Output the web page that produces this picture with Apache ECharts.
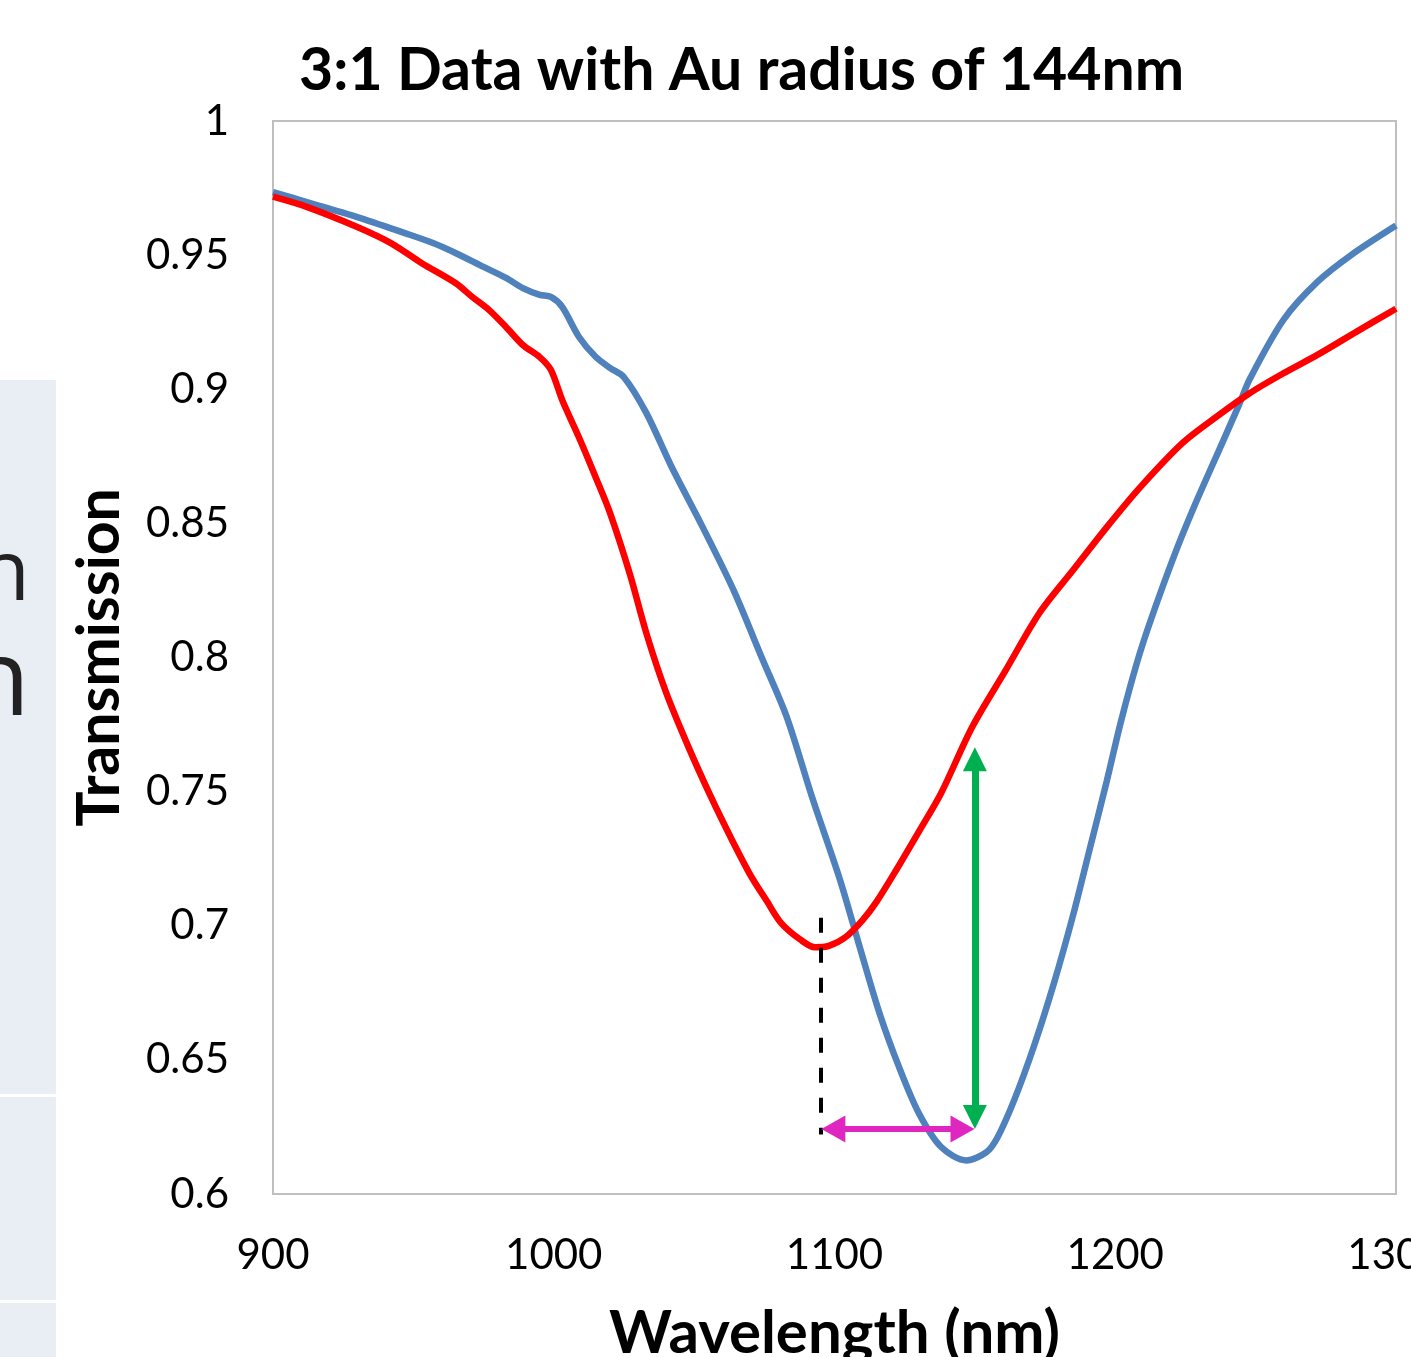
<!DOCTYPE html>
<html>
<head>
<meta charset="utf-8">
<script src="https://cdn.jsdelivr.net/npm/echarts@6/dist/echarts.min.js"></script>
<style>
  html, body { margin: 0; padding: 0; background: #fff; }
  #chart { width: 1411px; height: 1357px; }
</style>
</head>
<body>
<div id="chart"></div>
<script>
// blue: reference curve, red: measured 3:1 data
const blueWl = [900, 912, 930, 947, 957, 965, 975, 983, 989, 995, 999, 1003, 1009, 1015, 1020, 1025,
  1033, 1042, 1053, 1064, 1074, 1083, 1092, 1102, 1109, 1116, 1123, 1130, 1138, 1147, 1154, 1158,
  1164, 1171, 1178, 1185, 1191, 1197, 1202, 1208, 1213, 1221, 1228, 1236, 1244, 1248, 1260, 1272,
  1284, 1300]
const blueT = [0.9735, 0.9698, 0.9642, 0.9582, 0.9545, 0.9508, 0.9456, 0.9415, 0.9377, 0.9352, 0.9344,
  0.9307, 0.9195, 0.912, 0.908, 0.9045, 0.8911, 0.871, 0.8487, 0.8252, 0.8002, 0.7778, 0.748, 0.717,
  0.692, 0.6675, 0.6473, 0.6302, 0.6175, 0.6125, 0.6155, 0.621, 0.635, 0.655, 0.678, 0.704, 0.729,
  0.754, 0.776, 0.799, 0.815, 0.838, 0.856, 0.875, 0.894, 0.904, 0.926, 0.94, 0.95, 0.961]

const redWl = [900, 912, 930, 942, 953, 965, 971, 977, 983, 989, 995, 999, 1003, 1009, 1015, 1020,
  1027, 1033, 1040, 1048, 1056, 1063, 1070, 1076, 1081, 1088, 1093, 1098, 1104, 1110, 1115, 1122,
  1130, 1138, 1149, 1161, 1173, 1185, 1197, 1209, 1224, 1236, 1248, 1260, 1272, 1286, 1300]
const redT = [0.9718, 0.968, 0.9605, 0.9545, 0.947, 0.9396, 0.9344, 0.9295, 0.9232, 0.9165, 0.912,
  0.9072, 0.896, 0.882, 0.867, 0.854, 0.8315, 0.809, 0.787, 0.7666, 0.748, 0.733, 0.719, 0.709,
  0.701, 0.6947, 0.692, 0.6925, 0.6958, 0.7021, 0.709, 0.7208, 0.735, 0.7495, 0.774, 0.7953,
  0.8166, 0.8326, 0.8486, 0.8636, 0.88, 0.8897, 0.8986, 0.906, 0.9128, 0.9215, 0.93]

// annotation: red minimum drop line, peak shift and depth arrows
// (arrow ends sit half a head short of the tips, the heads are centred on them)
const redMinWl = 1095.2
const blueMinWl = 1150
const dashTop = 0.703
const dashBottom = 0.6222
const shiftLevel = 0.6242
const shiftFrom = 1099.6
const shiftTo = 1145.6
const depthFrom = 0.6287
const depthTo = 0.7621

const chart = echarts.init(document.getElementById('chart'))

const pair = (xs, ys) => xs.map((x, i) => [x, ys[i]])
const font = 'Lato, "Open Sans", sans-serif'

chart.setOption({
  animation: false,
  backgroundColor: '#fff',
  title: {
    text: '3:1 Data with Au radius of 144nm',
    left: 294,
    top: 36,
    textStyle: { fontFamily: font, fontSize: 59, fontWeight: 'bold', color: '#000' },
  },
  grid: {
    left: 273, top: 121, right: 15, bottom: 163,
    outerBoundsMode: 'none',
    containLabel: false,
    show: true, borderColor: '#bfbfbf', borderWidth: 2, backgroundColor: 'transparent',
  },
  xAxis: {
    type: 'value',
    min: 900, max: 1300, interval: 100,
    name: 'Wavelength (nm)',
    nameLocation: 'middle',
    nameGap: 110,
    nameTextStyle: { fontFamily: font, fontSize: 60, fontWeight: 'bold', color: '#000' },
    axisLine: { show: false },
    axisTick: { show: false },
    splitLine: { show: false },
    axisLabel: {
      fontFamily: font, fontSize: 42, color: '#000', margin: 40,
      formatter: (v) => String(v),
    },
  },
  yAxis: {
    type: 'value',
    min: 0.6, max: 1, interval: 0.05,
    name: 'Transmission',
    nameLocation: 'middle',
    nameGap: 144,
    nameTextStyle: { fontFamily: font, fontSize: 59, fontWeight: 'bold', color: '#000' },
    axisLine: { show: false },
    axisTick: { show: false },
    splitLine: { show: false },
    axisLabel: {
      fontFamily: font, fontSize: 42, color: '#000', margin: 44,
      formatter: (v) => String(parseFloat(v.toFixed(2))),
    },
  },
  series: [
    {
      name: 'blue',
      type: 'line',
      data: pair(blueWl, blueT),
      smooth: 0.3,
      showSymbol: false,
      lineStyle: { color: '#4f81bd', width: 6.5 },
    },
    {
      name: 'red',
      type: 'line',
      data: pair(redWl, redT),
      smooth: 0.3,
      showSymbol: false,
      lineStyle: { color: '#ff0000', width: 6.5 },
    },
    {
      name: 'annotations',
      type: 'line',
      data: [],
      markLine: {
        silent: true,
        animation: false,
        label: { show: false },
        data: [
          [
            { coord: [redMinWl, dashTop], symbol: 'none' },
            { coord: [redMinWl, dashBottom], symbol: 'none', lineStyle: { color: '#000', width: 4, type: [15, 15] } },
          ],
          [
            { coord: [shiftFrom, shiftLevel], symbol: 'triangle', symbolSize: [27, 24] },
            { coord: [shiftTo, shiftLevel], symbol: 'triangle', symbolSize: [27, 24], lineStyle: { color: '#e026c0', width: 6, type: 'solid' }, itemStyle: { color: '#e026c0' } },
          ],
          [
            { coord: [blueMinWl, depthFrom], symbol: 'triangle', symbolSize: [24, 24] },
            { coord: [blueMinWl, depthTo], symbol: 'triangle', symbolSize: [24, 24], lineStyle: { color: '#00b050', width: 7, type: 'solid' }, itemStyle: { color: '#00b050' } },
          ],
        ],
      },
    },
  ],
  graphic: [
    { type: 'rect', shape: { x: 0, y: 380, width: 56, height: 714 }, style: { fill: '#e9edf4' }, z: -1 },
    { type: 'rect', shape: { x: 0, y: 1097, width: 56, height: 203 }, style: { fill: '#e9edf4' }, z: -1 },
    { type: 'rect', shape: { x: 0, y: 1303, width: 56, height: 60 }, style: { fill: '#e9edf4' }, z: -1 },
    { type: 'text', x: 30, y: 618, style: { text: 'n', font: '84px "Open Sans", sans-serif', fill: '#222', textAlign: 'right', textVerticalAlign: 'bottom' } },
    { type: 'text', x: 30, y: 738, style: { text: 'n', font: '106px "Open Sans", sans-serif', fill: '#222', textAlign: 'right', textVerticalAlign: 'bottom' } },
  ],
})
</script>
</body>
</html>
